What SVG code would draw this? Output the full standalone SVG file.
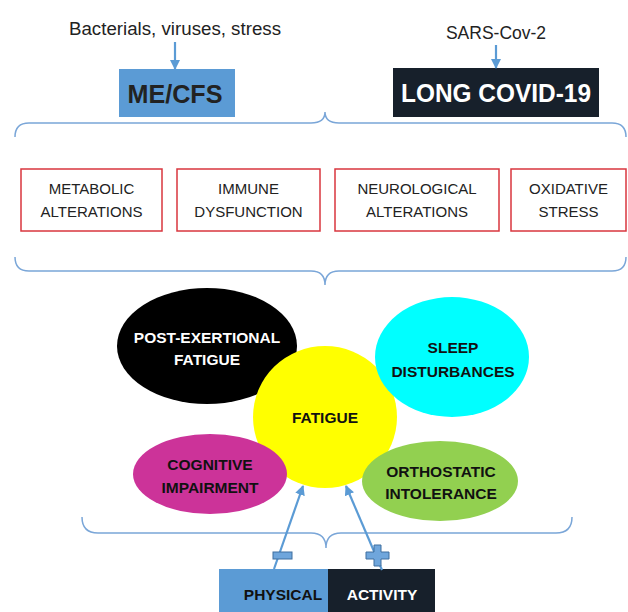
<svg xmlns="http://www.w3.org/2000/svg" width="628" height="612" viewBox="0 0 628 612">
  <defs>
    <marker id="ah" viewBox="0 0 10 10" refX="9" refY="5" markerWidth="10" markerHeight="10" markerUnits="userSpaceOnUse" orient="auto">
      <path d="M0,0 L10,5 L0,10 Z" fill="#5b9bd5"/>
    </marker>
    <style>
      .lbl{font-family:"Liberation Sans",Arial,sans-serif;fill:#222;text-anchor:middle}
      .src{font-size:17.5px}
      .big{font-size:25px;font-weight:bold}
      .box{fill:#fff;stroke:#d9363e;stroke-width:1.5}
      .bt{font-size:15px}
      .et{font-size:15.5px;font-weight:bold;fill:#111}
      .brace{fill:none;stroke:#7aa6d8;stroke-width:1.5}
      .arr{fill:none;stroke:#5b9bd5;stroke-width:2.2;marker-end:url(#ah)}
      .sign{fill:#6fa6dc;stroke:#3f6f9f;stroke-width:1}
    </style>
  </defs>
  <rect width="628" height="612" fill="#fff"/>

  <g id="source-mecfs">
    <text class="lbl src" x="175" y="35" textLength="212" lengthAdjust="spacingAndGlyphs">Bacterials, viruses, stress</text>
  </g>
  <g id="source-sars">
    <text class="lbl src" x="496" y="39">SARS-Cov-2</text>
  </g>
  <g id="me-cfs">
    <rect x="119" y="69" width="116" height="48" fill="#5b9bd5"/>
    <text class="lbl big" x="175" y="103" fill="#111" textLength="95" lengthAdjust="spacingAndGlyphs">ME/CFS</text>
  </g>
  <g id="long-covid">
    <rect x="393" y="68" width="206" height="49" fill="#17202b"/>
    <text class="lbl big" x="496" y="102" style="fill:#fff" textLength="190" lengthAdjust="spacingAndGlyphs">LONG COVID-19</text>
  </g>

  <g id="braces">
    <path class="brace" d="M15,137 Q15,123 29,123 H311 Q325,123 325,112 Q325,123 339,123 H612 Q626,123 626,137"/>
    <path class="brace" d="M15,257 Q15,271 29,271 H311 Q325,271 325,285 Q325,271 339,271 H612 Q626,271 626,257"/>
    <path class="brace" d="M82,517 Q82,533 98,533 H311 Q326,533 326,548 Q326,533 341,533 H556 Q572,533 572,517"/>
  </g>

  <g id="metabolic">
    <rect class="box" x="21" y="169" width="141" height="62"/>
    <text class="lbl bt" x="91.5" y="194">METABOLIC</text>
    <text class="lbl bt" x="91.5" y="217">ALTERATIONS</text>
  </g>
  <g id="immune">
    <rect class="box" x="177" y="169" width="143" height="62"/>
    <text class="lbl bt" x="248.5" y="194">IMMUNE</text>
    <text class="lbl bt" x="248.5" y="217">DYSFUNCTION</text>
  </g>
  <g id="neurological">
    <rect class="box" x="335" y="169" width="164" height="62"/>
    <text class="lbl bt" x="417" y="194">NEUROLOGICAL</text>
    <text class="lbl bt" x="417" y="217">ALTERATIONS</text>
  </g>
  <g id="oxidative">
    <rect class="box" x="511" y="169" width="115" height="62"/>
    <text class="lbl bt" x="568.5" y="194">OXIDATIVE</text>
    <text class="lbl bt" x="568.5" y="217">STRESS</text>
  </g>

  <g id="post-exertional">
    <ellipse cx="207" cy="346" rx="90" ry="58" fill="#000"/>
    <text class="lbl et" x="207" y="343" style="fill:#fff">POST-EXERTIONAL</text>
    <text class="lbl et" x="207" y="365" style="fill:#fff">FATIGUE</text>
  </g>
  <g id="fatigue">
    <ellipse cx="325" cy="417" rx="72" ry="71" fill="#ffff00"/>
    <text class="lbl et" x="325" y="423">FATIGUE</text>
  </g>
  <g id="sleep">
    <ellipse cx="452" cy="357" rx="77" ry="60" fill="#00ffff"/>
    <text class="lbl et" x="453" y="353">SLEEP</text>
    <text class="lbl et" x="453" y="377">DISTURBANCES</text>
  </g>
  <g id="cognitive">
    <ellipse cx="210" cy="474" rx="77" ry="40" fill="#cc3399"/>
    <text class="lbl et" x="210" y="470">COGNITIVE</text>
    <text class="lbl et" x="210" y="493">IMPAIRMENT</text>
  </g>
  <g id="orthostatic">
    <ellipse cx="440" cy="481" rx="78" ry="40" fill="#92d050"/>
    <text class="lbl et" x="441" y="477">ORTHOSTATIC</text>
    <text class="lbl et" x="441" y="499">INTOLERANCE</text>
  </g>

  <g id="physical-activity">
    <rect x="219" y="569" width="109" height="43" fill="#5b9bd5"/>
    <rect x="328" y="569" width="107" height="43" fill="#17202b"/>
    <text class="lbl et" x="283" y="600">PHYSICAL</text>
    <text class="lbl et" x="382" y="600" style="fill:#fff">ACTIVITY</text>
  </g>

  <g id="connectors">
    <line class="arr" x1="175" y1="42" x2="175" y2="69"/>
    <line class="arr" x1="496" y1="45" x2="496" y2="68"/>
    <line class="arr" x1="274" y1="569" x2="303" y2="486"/>
    <line class="arr" x1="382" y1="570" x2="346" y2="486"/>
    <rect class="sign" x="273" y="552" width="19" height="7"/>
    <path class="sign" d="M374,545 h7 v7 h8 v7 h-8 v7 h-7 v-7 h-8 v-7 h8 Z"/>
  </g>
</svg>
